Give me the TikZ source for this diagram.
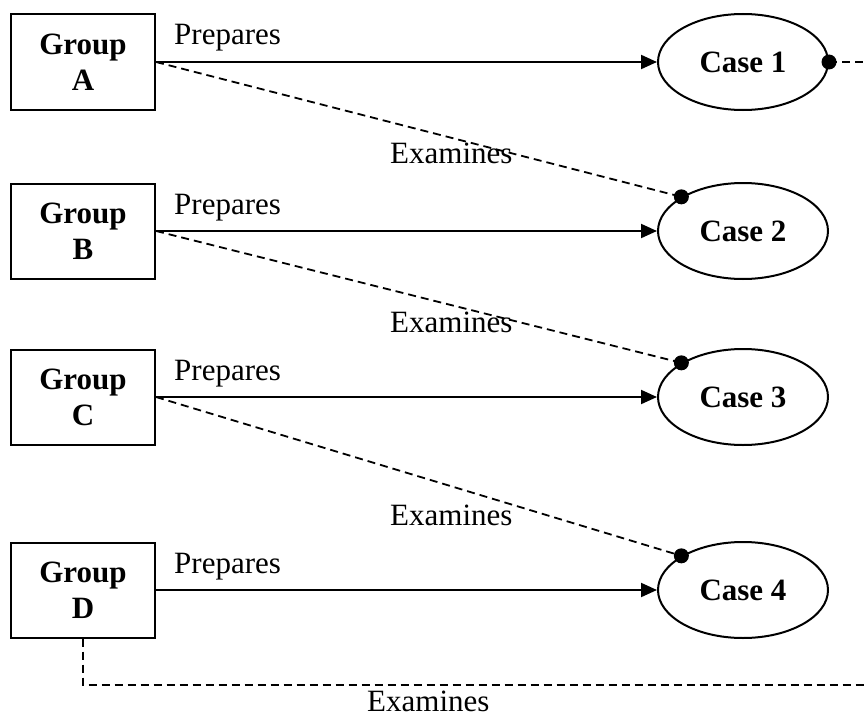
\documentclass[tikz,border=0pt]{standalone}
\usepackage{fontspec}
\setmainfont{Liberation Serif}
\usetikzlibrary{arrows.meta,shapes.geometric}
\tikzset{
  grp/.style={draw, line width=2pt, minimum width=144pt, minimum height=95pt, inner sep=0pt, align=center, font=\fontsize{31}{36}\selectfont\bfseries},
  cas/.style={draw, ellipse, line width=2pt, minimum width=170pt, minimum height=96pt, inner sep=0pt, font=\fontsize{31}{36}\selectfont\bfseries},
  prep/.style={line width=2pt, -{Triangle[length=16pt,width=14pt]}},
  exam/.style={line width=1.8pt, dash pattern=on 8pt off 5pt},
  lbl/.style={anchor=base west, inner sep=0pt, font=\fontsize{31}{36}\selectfont},
  dotc/.style={fill=black}
}
\begin{document}
\begin{tikzpicture}[x=1pt,y=-1pt]
\useasboundingbox (0,0) rectangle (865,717);
\node[grp] (gA) at (83,62) {Group\\A};
\node[grp] (gB) at (83,231) {Group\\B};
\node[grp] (gC) at (83,397) {Group\\C};
\node[grp] (gD) at (83,590) {Group\\D};
\node[cas] (c1) at (743,62) {Case 1};
\node[cas] (c2) at (743,231) {Case 2};
\node[cas] (c3) at (743,397) {Case 3};
\node[cas] (c4) at (743,590) {Case 4};
\coordinate (e1) at (865,62);
\coordinate (bl) at (83,685);
\coordinate (br) at (865,685);
% prepares
\draw[prep] (gA.east) -- (c1.west);
\draw[prep] (gB.east) -- (c2.west);
\draw[prep] (gC.east) -- (c3.west);
\draw[prep] (gD.east) -- (c4.west);
\node[lbl] (pA) at (174,45) {Prepares};
\node[lbl] (pB) at (174,214) {Prepares};
\node[lbl] (pC) at (174,380) {Prepares};
\node[lbl] (pD) at (174,573) {Prepares};
% examines
\draw[exam] (gA.east) -- (c2.151);
\draw[exam] (gB.east) -- (c3.151);
\draw[exam] (gC.east) -- (c4.151);
\draw[exam] (c1.east) -- (e1);
\draw[exam] (gD.south) -- (bl) -- (br);
\fill[dotc] (c2.151) circle (7.5);
\fill[dotc] (c3.151) circle (7.5);
\fill[dotc] (c4.151) circle (7.5);
\fill[dotc] (c1.east) circle (7.5);
\node[lbl] (x1) at (390,163) {Examines};
\node[lbl] (x2) at (390,332) {Examines};
\node[lbl] (x3) at (390,525) {Examines};
\node[lbl] (x4) at (367,711) {Examines};
\end{tikzpicture}
\end{document}
